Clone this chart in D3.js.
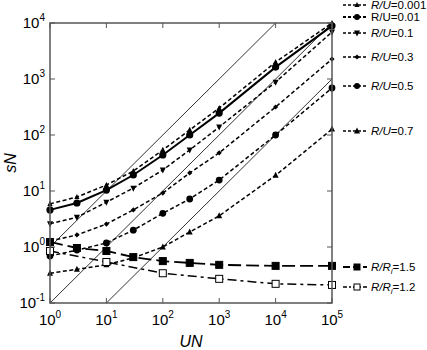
<!DOCTYPE html>
<html>
<head>
<meta charset="utf-8">
<script src="https://cdn.jsdelivr.net/npm/d3@7"></script>
<style>
  body { margin: 0; background: #fff; }
  svg { display: block; font-family: 'Liberation Sans', Arial, sans-serif; }
</style>
</head>
<body>
<svg id="chart"></svg>
<script>
// UN values where points were sampled
const unX = [1, 3, 10, 30, 100, 300, 1000, 10000, 100000]
const unXRi = [1, 10, 100, 1000, 10000, 100000]

// sN for each R/U
const sN_0001 = [5.9, 7.8, 12.8, 22.7, 54, 123, 303, 2000, 10000]
const sN_001 = [4.6, 6.1, 10.4, 19.3, 44, 100, 246, 1630, 8900]
const sN_01 = [2.6, 3.4, 6.3, 11.3, 23.7, 54, 139, 880, 6900]
const sN_03 = [1.28, 1.64, 2.57, 4.6, 9.2, 21, 48, 316, 2270]
const sN_05 = [0.69, 0.88, 1.18, 2.0, 4.0, 7.2, 15.7, 100, 690]
const sN_07 = [0.34, 0.4, 0.48, 0.64, 1.0, 1.85, 3.6, 19, 127]

// sN for R/Ri
const sN_Ri15 = [1.23, 0.96, 0.85, 0.66, 0.56, 0.52, 0.48, 0.46, 0.46]
const sN_Ri12 = [0.85, 0.54, 0.34, 0.27, 0.22, 0.21]

// guide lines sN = k * UN
const guideK = [1, 0.1, 0.01]

const xTicks = [1, 10, 100, 1000, 10000, 100000]
const yTicks = [0.1, 1, 10, 100, 1000, 10000]

const series = [
  { name: '0.001', kind: 'RU', italic: true, x: unX, y: sN_0001, marker: 'triUp', size: 2.6, dash: '4,2.5', width: 1.5 },
  { name: '0.01', kind: 'RU', italic: false, x: unX, y: sN_001, marker: 'circle', size: 3.6, dash: null, width: 2 },
  { name: '0.1', kind: 'RU', italic: true, x: unX, y: sN_01, marker: 'triDown', size: 3, dash: '4,2.5', width: 1.5 },
  { name: '0.3', kind: 'RU', italic: true, x: unX, y: sN_03, marker: 'diamond', size: 2.6, dash: '4,2.5', width: 1.5 },
  { name: '0.5', kind: 'RU', italic: true, x: unX, y: sN_05, marker: 'circle', size: 3.4, dash: '4,2.5', width: 1.5 },
  { name: '0.7', kind: 'RU', italic: true, x: unX, y: sN_07, marker: 'triUp', size: 3, dash: '4,2.5', width: 1.5 },
  { name: '1.5', kind: 'Ri', italic: true, x: unX, y: sN_Ri15, marker: 'square', size: 3.5, dash: '13,5', width: 1.8 },
  { name: '1.2', kind: 'Ri', italic: true, x: unXRi, y: sN_Ri12, marker: 'squareOpen', size: 3.5, dash: '9,4,3,4', width: 1.5 },
]

const legendY = [5, 17, 33, 57, 86, 131, 267, 287]

const getConfig = () => {
  const width = 427
  const height = 350
  const margin = { top: 23, left: 50, right: 95, bottom: 47 }
  const bodyWidth = width - margin.left - margin.right
  const bodyHeight = height - margin.top - margin.bottom
  const container = d3.select('#chart').attr('width', width).attr('height', height)
  return { width, height, margin, bodyWidth, bodyHeight, container }
}

const getScales = (config) => {
  const { margin, bodyWidth, bodyHeight } = config
  const xScale = d3.scaleLog().domain([1, 1e5]).range([margin.left, margin.left + bodyWidth])
  const yScale = d3.scaleLog().domain([0.1, 1e4]).range([margin.top + bodyHeight, margin.top])
  return { xScale, yScale }
}

const drawMarker = (g, type, cx, cy, r) => {
  if (type === 'circle') {
    g.append('circle').attr('cx', cx).attr('cy', cy).attr('r', r).attr('fill', '#000')
  } else if (type === 'square' || type === 'squareOpen') {
    g.append('rect')
      .attr('x', cx - r).attr('y', cy - r)
      .attr('width', 2 * r).attr('height', 2 * r)
      .attr('fill', type === 'square' ? '#000' : '#fff')
      .attr('stroke', '#000').attr('stroke-width', 1)
  } else {
    let pts
    if (type === 'triUp') pts = [[cx, cy - r * 1.2], [cx + r, cy + r * 0.8], [cx - r, cy + r * 0.8]]
    else if (type === 'triDown') pts = [[cx, cy + r * 1.2], [cx + r, cy - r * 0.8], [cx - r, cy - r * 0.8]]
    else pts = [[cx, cy - r], [cx + r, cy], [cx, cy + r], [cx - r, cy]]
    g.append('polygon').attr('points', pts.map((p) => p.join(',')).join(' ')).attr('fill', '#000')
  }
}

const drawGuides = (scales, config) => {
  const { xScale, yScale } = scales
  const g = config.container.append('g')
  guideK.forEach((k) => {
    const x0 = Math.max(1, 0.1 / k)
    const x1 = Math.min(1e5, 1e4 / k)
    g.append('line')
      .attr('x1', xScale(x0)).attr('y1', yScale(k * x0))
      .attr('x2', xScale(x1)).attr('y2', yScale(k * x1))
      .attr('stroke', '#000').attr('stroke-width', 0.8)
  })
}

const drawSeries = (scales, config) => {
  const { xScale, yScale } = scales
  const line = d3.line().x((d) => xScale(d[0])).y((d) => yScale(d[1]))
  series.forEach((s) => {
    const g = config.container.append('g')
    const pts = s.x.map((x, i) => [x, s.y[i]])
    g.append('path')
      .attr('d', line(pts))
      .attr('fill', 'none')
      .attr('stroke', '#000')
      .attr('stroke-width', s.width)
      .attr('stroke-dasharray', s.dash)
    pts.forEach((p) => drawMarker(g, s.marker, xScale(p[0]), yScale(p[1]), s.size))
  })
}

const drawAxes = (scales, config) => {
  const { xScale, yScale } = scales
  const { container, margin, bodyWidth, bodyHeight } = config
  const left = margin.left
  const right = margin.left + bodyWidth
  const top = margin.top
  const bottom = margin.top + bodyHeight
  const g = container.append('g')
  const axisColor = '#555'

  g.append('rect')
    .attr('x', left).attr('y', top)
    .attr('width', bodyWidth).attr('height', bodyHeight)
    .attr('fill', 'none').attr('stroke', axisColor).attr('stroke-width', 1.5)

  const tl = 5
  xTicks.forEach((t) => {
    const x = xScale(t)
    g.append('line').attr('x1', x).attr('x2', x).attr('y1', bottom).attr('y2', bottom - tl).attr('stroke', axisColor)
    g.append('line').attr('x1', x).attr('x2', x).attr('y1', top).attr('y2', top + tl).attr('stroke', axisColor)
    const txt = g.append('text')
      .attr('x', x).attr('y', bottom + 22)
      .attr('text-anchor', 'middle')
      .style('font-size', '15px')
    txt.append('tspan').text('10')
    txt.append('tspan').attr('dy', -7).style('font-size', '10px').text(Math.round(Math.log10(t)))
  })
  yTicks.forEach((t) => {
    const y = yScale(t)
    g.append('line').attr('x1', left).attr('x2', left + tl).attr('y1', y).attr('y2', y).attr('stroke', axisColor)
    g.append('line').attr('x1', right).attr('x2', right - tl).attr('y1', y).attr('y2', y).attr('stroke', axisColor)
    const txt = g.append('text')
      .attr('x', left - 5).attr('y', y + 5)
      .attr('text-anchor', 'end')
      .style('font-size', '15px')
    txt.append('tspan').text('10')
    txt.append('tspan').attr('dy', -7).style('font-size', '10px').text(Math.round(Math.log10(t)))
  })

  container.append('text')
    .attr('x', (left + right) / 2).attr('y', 347)
    .attr('text-anchor', 'middle')
    .style('font-size', '16px').style('font-style', 'italic')
    .text('UN')
  container.append('text')
    .attr('transform', `translate(16,${(top + bottom) / 2}) rotate(-90)`)
    .attr('text-anchor', 'middle')
    .style('font-size', '16px').style('font-style', 'italic')
    .text('sN')
}

const drawLegend = (config) => {
  const g = config.container.append('g')
  series.forEach((s, i) => {
    const y = legendY[i]
    g.append('line')
      .attr('x1', 343).attr('x2', 367).attr('y1', y).attr('y2', y)
      .attr('stroke', '#000').attr('stroke-width', s.width > 1.6 ? 1.8 : 1.4)
      .attr('stroke-dasharray', s.kind === 'Ri' ? (s.marker === 'square' ? '7,3' : '4,2,2,2') : '3,2')
    drawMarker(g, s.marker, 357, y, Math.min(s.size, 3))
    const txt = g.append('text').attr('x', 371).attr('y', y + 4).style('font-size', '11.5px')
    if (s.kind === 'RU') {
      txt.append('tspan').style('font-style', s.italic ? 'italic' : 'normal').text('R/U')
      txt.append('tspan').text('=' + s.name)
    } else {
      txt.append('tspan').style('font-style', 'italic').text('R/R')
      txt.append('tspan').style('font-style', 'italic').style('font-size', '8px').attr('dy', 3).text('i')
      txt.append('tspan').attr('dy', -3).text('=' + s.name)
    }
  })
}

const drawChart = () => {
  const config = getConfig()
  const scales = getScales(config)
  drawGuides(scales, config)
  drawSeries(scales, config)
  drawAxes(scales, config)
  drawLegend(config)
}

drawChart()
</script>
</body>
</html>
